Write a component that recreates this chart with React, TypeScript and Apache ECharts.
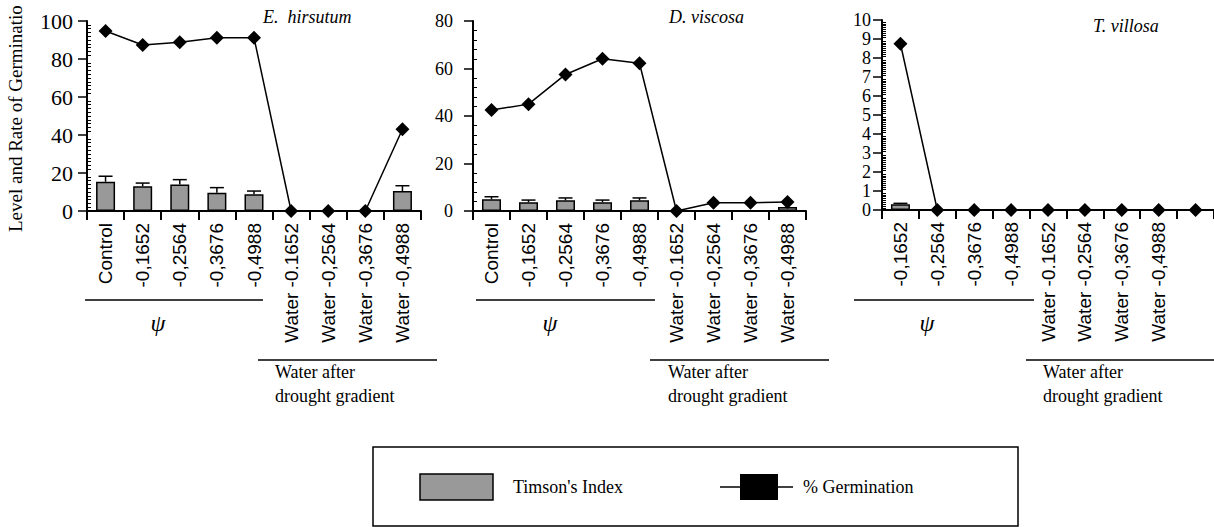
import React, { useEffect, useRef } from "react";
import * as echarts from "echarts";

// ---------- data ----------
const catsEh = ["Control", "-0,1652", "-0,2564", "-0,3676", "-0,4988", "Water -0.1652", "Water -0,2564", "Water -0,3676", "Water -0,4988"];
const catsDv = ["Control", "-0,1652", "-0,2564", "-0,3676", "-0,4988", "Water -0.1652", "Water -0,2564", "Water -0,3676", "Water -0,4988"];
const catsTv = ["-0,1652", "-0,2564", "-0,3676", "-0,4988", "Water -0.1652", "Water -0,2564", "Water -0,3676", "Water -0,4988", ""];

const timsonEh = [15.4, 13.0, 14.0, 9.6, 8.8, 0, 0, 0, 10.5];
const timsonErrEh = [2.9, 1.7, 2.5, 2.7, 1.7, 0, 0, 0, 2.8];
const germEh = [94.7, 87.4, 88.8, 91.2, 91.2, 0, 0, 0, 43];

const timsonDv = [4.9, 3.7, 4.5, 3.7, 4.5, 0, 0.3, 0.3, 1.7];
const timsonErrDv = [1.1, 0.9, 1.0, 0.9, 1.0, 0, 0, 0, 0];
const germDv = [42.5, 45.0, 57.5, 64.1, 62.2, 0, 3.5, 3.5, 3.8];

const timsonTv = [0.3, 0, 0, 0, 0, 0, 0, 0, 0];
const timsonErrTv = [0.05, 0, 0, 0, 0, 0, 0, 0, 0];
const germTv = [8.75, 0, 0, 0, 0, 0, 0, 0, 0];

const yMax = [100, 80, 10];
const yInterval = [20, 20, 1];
const yMinorSplit = [10, 5, 10];

const speciesTitles = ["E.  hirsutum", "D. viscosa", "T. villosa"];
const yAxisTitle = "Level and Rate of Germinatio";
const psiLabel = "ψ";
const waterLabel1 = "Water after";
const waterLabel2 = "drought gradient";
const legendBar = "Timson's Index";
const legendLine = "% Germination";

// ---------- layout ----------
const grids = [
  { left: 87, top: 21, width: 334, height: 190 },
  { left: 473, top: 21, width: 333, height: 190 },
  { left: 882, top: 20, width: 332, height: 190 },
];
const titlePos = [
  [263, 17],
  [669, 17],
  [1093, 26],
];
const groupPos = [
  { psi: [85, 263], psiX: 158, water: [258, 437], textX: 275 },
  { psi: [476, 655], psiX: 550, water: [650, 829], textX: 668 },
  { psi: [854, 1034], psiX: 927, water: [1026, 1214], textX: 1043 },
];

const SERIF = "'Liberation Serif', 'Times New Roman', serif";
const SANS = "'Liberation Sans', Arial, sans-serif";

function errData(vals: number[], errs: number[]) {
  const out: number[][] = [];
  vals.forEach((v, i) => {
    if (errs[i] > 0) out.push([i, v, v + errs[i]]);
  });
  return out;
}

export default function App() {
  const ref = useRef<HTMLDivElement>(null);
  useEffect(() => {
    document.body.style.margin = "0";
    if (!ref.current) return;
    const chart = echarts.init(ref.current, null, { renderer: "svg" });

    const cats = [catsEh, catsDv, catsTv];
    const timson = [timsonEh, timsonDv, timsonTv];
    const timsonErr = [timsonErrEh, timsonErrDv, timsonErrTv];
    const germ = [germEh, germDv, germTv];

    const xAxis = cats.map((c, i) => ({
      type: "category",
      gridIndex: i,
      data: c,
      boundaryGap: true,
      axisLine: { lineStyle: { color: "#000", width: 2 } },
      axisTick: { show: true, length: 9, lineStyle: { color: "#000", width: 2 } },
      axisLabel: { rotate: 90, interval: 0, fontSize: 19, fontFamily: SANS, color: "#000", margin: 12 },
      splitLine: { show: false },
    }));

    const labelMargins = [14, 20, 11];
    const labelSizes = [22, 18, 18];
    const mainY = [0, 1, 2].map((i) => ({
      type: "value",
      gridIndex: i,
      min: 0,
      max: yMax[i],
      interval: yInterval[i],
      axisLine: { show: true, lineStyle: { color: "#000", width: 2 } },
      axisTick: { show: true, length: 9, lineStyle: { color: "#000", width: 1.5 } },
      axisLabel: { fontSize: labelSizes[i], fontFamily: SERIF, color: "#000", margin: labelMargins[i] },
      splitLine: { show: false },
    }));
    // a second, label-less axis per grid placed on the left edge, whose minor ticks point into the plot
    const minorY = [0, 1, 2].map((i) => ({
      type: "value",
      gridIndex: i,
      position: "right",
      offset: -grids[i].width,
      min: 0,
      max: yMax[i],
      interval: yInterval[i],
      axisLine: { show: false },
      axisTick: { show: false },
      axisLabel: { show: false },
      minorTick: { show: true, splitNumber: yMinorSplit[i], length: 4, lineStyle: { color: "#000", width: 1 } },
      splitLine: { show: false },
      minorSplitLine: { show: false },
    }));

    const series: any[] = [];
    [0, 1, 2].forEach((i) => {
      series.push({
        type: "bar",
        xAxisIndex: i,
        yAxisIndex: i,
        data: timson[i],
        barWidth: 19,
        itemStyle: { color: "#999999", borderColor: "#000", borderWidth: 1.5 },
        z: 2,
      });
      series.push({
        type: "custom",
        xAxisIndex: i,
        yAxisIndex: i,
        data: errData(timson[i], timsonErr[i]),
        encode: { x: 0, y: [1, 2] },
        z: 3,
        renderItem: (params: any, api: any) => {
          const x = api.value(0);
          const p0 = api.coord([x, api.value(1)]);
          const p1 = api.coord([x, api.value(2)]);
          return {
            type: "group",
            children: [
              { type: "line", shape: { x1: p0[0], y1: p0[1], x2: p1[0], y2: p1[1] }, style: { stroke: "#000", lineWidth: 1.5 } },
              { type: "line", shape: { x1: p1[0] - 7, y1: p1[1], x2: p1[0] + 7, y2: p1[1] }, style: { stroke: "#000", lineWidth: 1.5 } },
            ],
          };
        },
      });
      series.push({
        type: "line",
        xAxisIndex: i,
        yAxisIndex: i,
        data: germ[i],
        symbol: "diamond",
        symbolSize: 14,
        lineStyle: { color: "#000", width: 1.5 },
        itemStyle: { color: "#000" },
        z: 5,
      });
    });

    const graphic: any[] = [];
    graphic.push({
      type: "text",
      x: 15,
      y: 232,
      rotation: Math.PI / 2,
      style: { text: yAxisTitle, font: `19px ${SERIF}`, fill: "#000", textAlign: "left", textVerticalAlign: "middle" },
    });
    speciesTitles.forEach((t, i) => {
      graphic.push({
        type: "text",
        x: titlePos[i][0],
        y: titlePos[i][1],
        style: { text: t, font: `italic 18px ${SERIF}`, fill: "#000", textAlign: "left", textVerticalAlign: "middle" },
      });
    });
    groupPos.forEach((g) => {
      graphic.push({ type: "line", shape: { x1: g.psi[0], y1: 300, x2: g.psi[1], y2: 300 }, style: { stroke: "#000", lineWidth: 1.5 } });
      graphic.push({
        type: "text",
        x: g.psiX,
        y: 323,
        style: { text: psiLabel, font: `italic 24px ${SERIF}`, fill: "#000", textAlign: "center", textVerticalAlign: "middle" },
      });
      graphic.push({ type: "line", shape: { x1: g.water[0], y1: 360, x2: g.water[1], y2: 360 }, style: { stroke: "#000", lineWidth: 1.5 } });
      graphic.push({
        type: "text",
        x: g.textX,
        y: 372,
        style: { text: waterLabel1, font: `18px ${SERIF}`, fill: "#000", textAlign: "left", textVerticalAlign: "middle" },
      });
      graphic.push({
        type: "text",
        x: g.textX,
        y: 396,
        style: { text: waterLabel2, font: `18px ${SERIF}`, fill: "#000", textAlign: "left", textVerticalAlign: "middle" },
      });
    });
    // legend
    graphic.push({ type: "rect", shape: { x: 373, y: 447, width: 645, height: 79 }, style: { fill: "none", stroke: "#000", lineWidth: 1.5 } });
    graphic.push({ type: "rect", shape: { x: 420, y: 474, width: 73, height: 26 }, style: { fill: "#999999", stroke: "#000", lineWidth: 1.5 } });
    graphic.push({
      type: "text",
      x: 513,
      y: 487,
      style: { text: legendBar, font: `18px ${SERIF}`, fill: "#000", textAlign: "left", textVerticalAlign: "middle" },
    });
    graphic.push({ type: "line", shape: { x1: 720, y1: 487, x2: 793, y2: 487 }, style: { stroke: "#000", lineWidth: 1.5 } });
    graphic.push({ type: "rect", shape: { x: 740, y: 474, width: 38, height: 26 }, style: { fill: "#000" } });
    graphic.push({
      type: "text",
      x: 803,
      y: 487,
      style: { text: legendLine, font: `18px ${SERIF}`, fill: "#000", textAlign: "left", textVerticalAlign: "middle" },
    });

    chart.setOption({
      animation: false,
      backgroundColor: "#fff",
      grid: grids,
      xAxis,
      yAxis: [...mainY, ...minorY],
      series,
      graphic,
    });
    return () => chart.dispose();
  }, []);
  return <div ref={ref} style={{ width: 1214, height: 527 }} />;
}
